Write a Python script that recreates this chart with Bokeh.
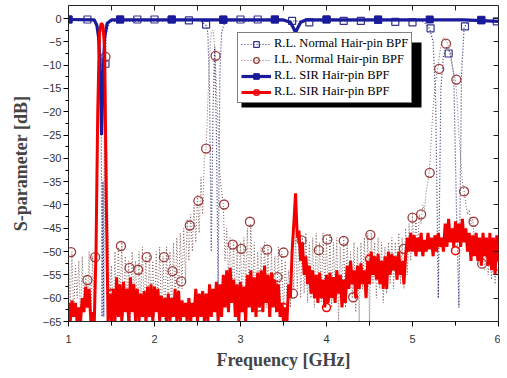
import numpy as np
from bokeh.plotting import figure
from bokeh.models import Range1d, LinearAxis, FixedTicker, Legend, LegendItem, BoxAnnotation
from bokeh.embed import file_html
from bokeh.resources import INLINE

# ---------------- data ----------------
F0 = 1.0      # first sample of the dense sweeps [GHz]
DF = 0.02     # sweep step [GHz]

# I.L. of the SIR hair-pin BPF (red, labelled "R.L. SIR Hair-pin BPF" in the original legend)
sir_il = [
    -61, -65, -60.5, -64, -61, -65, -62, -65, -60, -63,          # 1.00
    -57.5, -62, -58, -65, -63, -65, -50, -20, -3, -1,            # 1.20
    -1.5, -6, -40, -65, -59, -65, -58, -65, -55.5, -64,          # 1.40
    -57, -65, -56.5, -63, -58, -65, -55.5, -63, -57, -65,        # 1.60
    -58, -65, -59, -64, -58.5, -65, -57.5, -64, -57, -65,        # 1.80
    -57.5, -63, -58, -65, -59.5, -64, -60, -65, -59, -65,        # 2.00
    -60, -64, -58, -65, -58.5, -65, -60.5, -64, -61, -65,        # 2.20
    -60, -65, -61, -64, -58, -65, -59, -64, -58.5, -65,          # 2.40
    -59, -65, -57, -64, -58, -63, -56.5, -65, -57, -64,          # 2.60
    -55, -62, -54, -63, -53.5, -61, -56, -64, -57, -65,          # 2.80
    -56.5, -63, -57.5, -65, -55, -62, -54, -63, -55.5, -64,      # 3.00
    -54.5, -62, -54, -63, -53, -61, -55, -64, -54.5, -62,        # 3.20
    -56, -63, -57, -64, -61, -65, -62, -65, -57, -60,            # 3.40
    -50, -44, -37.5, -47, -45.5, -52, -48, -55, -51, -57,        # 3.60
    -53, -59, -54, -60, -55, -61, -54.5, -60, -56, -62,          # 3.80
    -55, -61, -54.5, -60, -55.5, -61, -54, -59, -55, -62,        # 4.00
    -56, -61, -53, -58, -52, -57, -54, -60, -53, -58,            # 4.20
    -52.5, -57, -54, -60, -52, -57, -50, -55, -51, -56,          # 4.40
    -50.5, -57, -52, -58, -51, -58, -50, -55, -50.5, -54,        # 4.60
    -51, -56, -50, -55, -52, -57, -51, -47, -50, -46,            # 4.80
    -50, -46.5, -51, -47, -50, -46, -51, -47.5, -50, -46,        # 5.00
    -49.5, -47, -51, -46.5, -50, -46, -49, -47, -50, -44,        # 5.20
    -49, -43, -48, -45, -49, -43.5, -48, -44, -49, -43,          # 5.40
    -48, -45, -50, -46, -52, -46.5, -51, -46, -52, -47,          # 5.60
    -53, -46, -51, -47, -53, -46, -54, -47, -55, -46.5,          # 5.80
    -52,                                                          # 6.00
]

# I.L. of the normal hair-pin BPF (brown dotted)
il_norm = [
    -50, -62, -50, -64, -53, -60, -52, -65, -51, -63,            # 1.00
    -55, -61, -50, -64, -51, -62, -45, -30, -8, -2,              # 1.20
    -1, -5, -20, -45, -62, -53, -65, -50, -63, -49,              # 1.40
    -61, -48, -64, -51, -62, -52, -65, -50, -61, -52,            # 1.60
    -64, -50, -62, -49, -63, -51, -65, -50, -61, -52,            # 1.80
    -64, -50, -62, -49, -63, -51, -65, -49, -62, -50,            # 2.00
    -64, -48, -61, -47, -60, -46, -58, -45, -56, -43,            # 2.20
    -52, -42, -50, -40, -48, -38, -46, -34, -42, -30,            # 2.40
    -28, -18, -8, -3, -2.5, -6, -14, -24, -33, -37,              # 2.60
    -40, -52, -45, -56, -47, -60, -48, -62, -49, -60,            # 2.80
    -48, -63, -47, -58, -45, -60, -44, -61, -48, -63,            # 3.00
    -50, -62, -49, -60, -48, -62, -49, -64, -50, -61,            # 3.20
    -51, -63, -49, -62, -50, -64, -52, -60, -54, -62,            # 3.40
    -50, -58, -47, -58, -46, -60, -47, -59, -46, -61,            # 3.60
    -48, -60, -47, -62, -46, -59, -48, -61, -46, -58,            # 3.80
    -47, -60, -46, -62, -48, -59, -47, -65, -49, -60,            # 4.00
    -47, -62, -48, -58, -50, -60, -48, -63, -49, -65,            # 4.20
    -48, -58, -47, -60, -46, -65, -46, -57, -48, -60,            # 4.40
    -47, -58, -48, -61, -49, -59, -48, -57, -47, -58,            # 4.60
    -48, -56, -46, -57, -47, -58, -45, -55, -44, -52,            # 4.80
    -42, -50, -43, -49, -42, -44, -40, -41, -37, -35,            # 5.00
    -32, -25, -19, -15, -12, -10, -7, -5, -4, -4.5,              # 5.20
    -5, -6, -8, -10, -12, -13, -18, -25, -30, -35,               # 5.40
    -37, -40, -42, -41, -44, -43, -48, -46, -52, -49,            # 5.60
    -53, -50, -54, -48, -55, -49, -56, -50, -57, -51,            # 5.80
    -53,                                                          # 6.00
]

# R.L. of the normal hair-pin BPF (navy dotted)
rl_norm_f = [1.0, 1.30, 1.34, 1.36, 1.38, 1.39, 1.40, 1.41, 1.42, 1.44, 1.48,
             2.50, 2.56, 2.60, 2.62, 2.64, 2.66, 2.68, 2.70, 2.72, 2.74, 2.76, 2.78, 2.82,
             5.10, 5.16, 5.20, 5.24, 5.27, 5.30, 5.33, 5.36, 5.40, 5.44, 5.48, 5.51,
             5.54, 5.57, 5.60, 5.64, 5.70, 6.0]
rl_norm = [-0.2, -0.4, -1.5, -4, -20, -64, -35, -64, -12, -3, -0.6,
           -0.4, -0.8, -1.5, -3, -15, -50, -20, -6, -25, -58, -12, -3, -0.6,
           -0.5, -1.2, -2.2, -5, -18, -60, -15, -8, -6, -7.5, -12, -40,
           -62, -12, -2, -0.8, -0.4, -0.5]
rl_norm_mk_f = [1.0, 1.22, 1.43, 1.6, 1.8, 2.0, 2.2, 2.4, 2.6, 2.8, 3.0, 3.2, 3.4,
                3.6, 3.8, 4.0, 4.2, 4.4, 4.6, 4.8, 5.0, 5.21, 5.42, 5.61, 5.8, 5.98]
rl_norm_mk = [-0.2, -0.2, -9.7, -0.2, -0.2, -0.2, -0.2, -0.4, -1.3, -0.3, -0.2, -0.2, -0.2,
              -0.5, -0.8, -0.2, -0.5, -0.5, -0.3, -0.7, -0.8, -2.1, -7.5, -1.7, -0.3, -0.6]

# circle markers of the normal I.L. curve
il_norm_mk_f = [1.03, 1.22, 1.31, 1.43, 1.51, 1.61, 1.71, 1.81, 1.91, 2.11, 2.21, 2.31,
                2.41, 2.51, 2.60, 2.71, 2.81, 2.91, 3.01, 3.11, 3.21, 3.31, 3.43, 3.50,
                3.61, 3.71, 3.91, 4.01, 4.20, 4.31, 4.51, 4.90, 5.00, 5.10, 5.20, 5.31,
                5.39, 5.51, 5.60, 5.71, 5.81, 5.99]
il_norm_mk = [-50.1, -56.1, -51.2, -8.2, -59.1, -48.8, -53.5, -53.9, -51.2, -51.2, -54.2, -56.4,
              -44.4, -39.1, -27.9, -8.0, -39.9, -48.5, -49.4, -43.6, -61.8, -49.6, -55.5, -50.2,
              -59.0, -47.6, -49.7, -47.4, -47.7, -59.8, -46.4, -49.4, -42.7, -42.0, -33.1, -10.8,
              -5.4, -13.1, -37.1, -43.6, -52.6, -53.0]

# R.L. of the SIR hair-pin BPF (blue solid)
sir_rl_f = [1.0, 1.30, 1.33, 1.35, 1.37, 1.385, 1.40, 1.42, 1.45, 1.50,
            3.50, 3.58, 3.62, 3.64, 3.66, 3.70, 3.76, 5.60, 6.0]
sir_rl = [-0.2, -0.3, -1.5, -4, -12, -25, -14, -4, -1, -0.3,
          -0.3, -0.8, -2.2, -3, -2.2, -0.8, -0.3, -0.3, -0.6]
sir_rl_mk_f = [1.0, 1.6, 2.2, 2.8, 3.4, 4.0, 4.6, 5.2, 5.8]
sir_rl_mk = [-0.2, -0.2, -0.2, -0.2, -0.2, -0.2, -0.2, -0.2, -0.4]

# circle markers of the SIR I.L. curve
sir_il_mk_f = [1.0, 1.5, 2.0, 2.5, 3.0, 3.5, 4.0, 4.5, 5.0, 5.5, 6.0]
sir_il_mk = [-63, -59, -60, -62, -60, -62, -62, -51.6, -48, -49.8, -50]

x_ticks = [1, 2, 3, 4, 5, 6]
x_minor = [1.5, 2.5, 3.5, 4.5, 5.5]
x_top = [1.5, 2, 2.5, 3, 3.5, 4, 4.5, 5, 5.5]
y_ticks = [-65, -60, -55, -50, -45, -40, -35, -30, -25, -20, -15, -10, -5, 0]
y_minor = [-62.5, -57.5, -52.5, -47.5, -42.5, -37.5, -32.5, -27.5, -22.5, -17.5, -12.5, -7.5, -2.5]
y_right = [-60, -55, -50, -45, -40, -35, -30, -25, -20, -15, -10, -5, 0]

x_label = "Frequency [GHz]"
y_label = "S-parameter [dB]"
labels = ["R.L. Normal Hair-pin BPF", "I.L. Normal Hair-pin BPF",
          "R.L. SIR Hair-pin BPF", "R.L. SIR Hair-pin BPF"]

# ---------------- figure ----------------
f_dense = [F0 + DF * i for i in range(len(sir_il))]
f_dense2 = [F0 + DF * i for i in range(len(il_norm))]

NAVY = "#1a1a9c"
NAVY_DOT = "#2a2a70"
SQ = "#34348f"
BROWN = "#9c3c3c"
BROWN_DOT = "#806060"
RED = "#f20000"

p = figure(frame_width=430, frame_height=316, x_range=Range1d(1, 6), y_range=Range1d(-65, 2.8),
           output_backend="svg", toolbar_location=None,
           min_border_left=68, min_border_right=2, min_border_top=5, min_border_bottom=55,
           background_fill_color="white", border_fill_color="white")
p.grid.visible = False
p.outline_line_color = "#222222"
p.outline_line_width = 1

TICK_FONT = "Liberation Sans"
xa = p.xaxis[0]
xa.ticker = FixedTicker(ticks=x_ticks, minor_ticks=x_minor)
xa.axis_label = x_label
xa.axis_label_text_font = "Liberation Serif"
xa.axis_label_text_font_style = "bold"
xa.axis_label_text_font_size = "18px"
xa.axis_label_standoff = 4
xa.major_label_text_font = TICK_FONT
xa.major_label_text_font_size = "11px"
xa.major_label_text_color = "#333333"
xa.major_label_standoff = 8
xa.major_tick_out = 5
xa.major_tick_in = 0
xa.minor_tick_out = 4
xa.minor_tick_in = 0
xa.axis_line_color = "#222222"

ya = p.yaxis[0]
ya.ticker = FixedTicker(ticks=y_ticks, minor_ticks=y_minor)
ya.axis_label = y_label
ya.axis_label_text_font = "Liberation Serif"
ya.axis_label_text_font_style = "bold"
ya.axis_label_text_font_size = "18px"
ya.axis_label_standoff = 9
ya.major_label_text_font = TICK_FONT
ya.major_label_text_font_size = "11px"
ya.major_label_text_color = "#333333"
ya.major_label_standoff = 2
ya.major_tick_out = 5
ya.major_tick_in = 0
ya.minor_tick_out = 3
ya.minor_tick_in = 0
ya.axis_line_color = "#222222"

top = LinearAxis(ticker=FixedTicker(ticks=x_top, minor_ticks=[]),
                 major_label_text_font_size="0px", major_label_text_color=None,
                 major_label_standoff=0,
                 major_tick_out=0, major_tick_in=5, minor_tick_out=0, minor_tick_in=0,
                 axis_line_color=None, major_tick_line_color="#222222")
p.add_layout(top, "above")
right = LinearAxis(ticker=FixedTicker(ticks=y_right, minor_ticks=[]),
                   major_label_text_font_size="0px", major_label_text_color=None,
                   major_label_standoff=0,
                   major_tick_out=0, major_tick_in=5, minor_tick_out=0, minor_tick_in=0,
                   axis_line_color=None, major_tick_line_color="#222222")
p.add_layout(right, "right")

# R.L. normal
r1 = p.line(rl_norm_f, rl_norm, line_color=NAVY_DOT, line_width=1.2, line_dash="1 2")
r1m = p.scatter(rl_norm_mk_f, rl_norm_mk, marker="square", size=7, line_color=SQ,
                line_width=1.2, fill_color="white", fill_alpha=0)
# I.L. normal
r2 = p.line(f_dense2, il_norm, line_color=BROWN_DOT, line_width=1, line_dash="1 2")
r2m = p.scatter(il_norm_mk_f, il_norm_mk, marker="circle", size=9, line_color=BROWN,
                line_width=1.3, fill_alpha=0)
# R.L. SIR
r3 = p.line(sir_rl_f, sir_rl, line_color=NAVY, line_width=3.2)
r3m = p.scatter(sir_rl_mk_f, sir_rl_mk, marker="square", size=7, line_color=NAVY,
                fill_color=NAVY, line_width=1)
# I.L. SIR
r4 = p.line(f_dense, sir_il, line_color=RED, line_width=3.0)
r4m = p.scatter(sir_il_mk_f, sir_il_mk, marker="circle", size=8, line_color=RED,
                line_width=1.5, fill_alpha=0)

shadow = BoxAnnotation(left=241, right=421, top=42, bottom=107,
                       left_units="canvas", right_units="canvas",
                       top_units="canvas", bottom_units="canvas",
                       fill_color="black", fill_alpha=1, line_color=None)
p.add_layout(shadow)

legend = Legend(items=[LegendItem(label=labels[0], renderers=[r1, r1m]),
                       LegendItem(label=labels[1], renderers=[r2, r2m]),
                       LegendItem(label=labels[2], renderers=[r3, r3m]),
                       LegendItem(label=labels[3], renderers=[r4, r4m])],
                location=(169, 218), orientation="vertical",
                border_line_color="black", border_line_width=1,
                background_fill_color="white", background_fill_alpha=1,
                label_text_font="Liberation Serif", label_text_font_size="12.5px",
                label_text_color="black",
                glyph_width=30, glyph_height=14, label_height=14, spacing=1,
                padding=3, margin=0, label_standoff=3)
p.add_layout(legend, "center")

html = file_html(p, INLINE)
open("out.html", "w").write(html)
